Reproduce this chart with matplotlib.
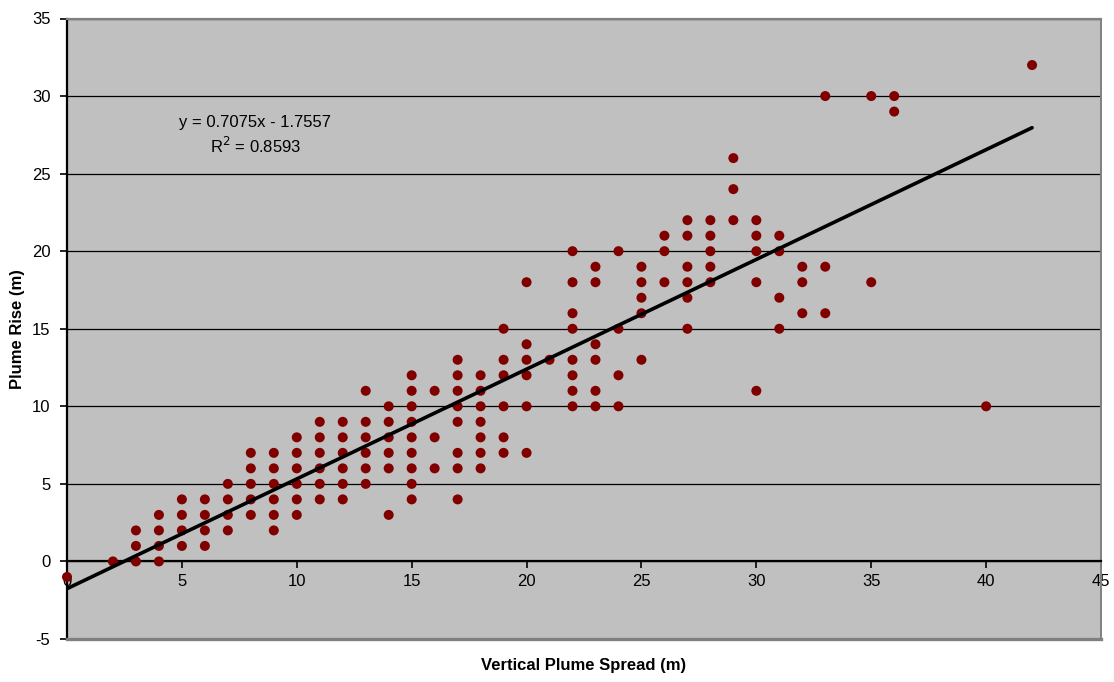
import matplotlib
matplotlib.use("Agg")
import matplotlib.pyplot as plt
import numpy as np

plt.rcParams['font.family'] = ['Liberation Sans', 'DejaVu Sans']

# Data: x = vertical plume spread (m), y = plume rise (m)
spread = [0, 2,
          3, 3, 3,
          4, 4, 4, 4,
          5, 5, 5, 5,
          6, 6, 6, 6,
          7, 7, 7, 7,
          8, 8, 8, 8, 8,
          9, 9, 9, 9, 9, 9,
          10, 10, 10, 10, 10, 10,
          11, 11, 11, 11, 11, 11,
          12, 12, 12, 12, 12, 12,
          13, 13, 13, 13, 13, 13,
          14, 14, 14, 14, 14, 14,
          15, 15, 15, 15, 15, 15, 15, 15, 15,
          16, 16, 16,
          17, 17, 17, 17, 17, 17, 17, 17,
          18, 18, 18, 18, 18, 18, 18,
          19, 19, 19, 19, 19, 19,
          20, 20, 20, 20, 20, 20,
          21,
          22, 22, 22, 22, 22, 22, 22, 22,
          23, 23, 23, 23, 23, 23,
          24, 24, 24, 24,
          25, 25, 25, 25, 25,
          26, 26, 26,
          27, 27, 27, 27, 27, 27,
          28, 28, 28, 28, 28,
          29, 29, 29,
          30, 30, 30, 30, 30,
          31, 31, 31, 31,
          32, 32, 32,
          33, 33, 33,
          35, 35,
          36, 36,
          40,
          42]
rise = [-1, 0,
        0, 1, 2,
        0, 1, 2, 3,
        1, 2, 3, 4,
        1, 2, 3, 4,
        2, 3, 4, 5,
        3, 4, 5, 6, 7,
        2, 3, 4, 5, 6, 7,
        3, 4, 5, 6, 7, 8,
        4, 5, 6, 7, 8, 9,
        4, 5, 6, 7, 8, 9,
        5, 6, 7, 8, 9, 11,
        3, 6, 7, 8, 9, 10,
        4, 5, 6, 7, 8, 9, 10, 11, 12,
        6, 8, 11,
        4, 6, 7, 9, 10, 11, 12, 13,
        6, 7, 8, 9, 10, 11, 12,
        7, 8, 10, 12, 13, 15,
        7, 10, 12, 13, 14, 18,
        13,
        10, 11, 12, 13, 15, 16, 18, 20,
        10, 11, 13, 14, 18, 19,
        10, 12, 15, 20,
        13, 16, 17, 18, 19,
        18, 20, 21,
        15, 17, 18, 19, 21, 22,
        18, 19, 20, 21, 22,
        22, 24, 26,
        11, 18, 20, 21, 22,
        15, 17, 20, 21,
        16, 18, 19,
        16, 19, 30,
        18, 30,
        29, 30,
        10,
        32]

# Trendline as reported on the chart
slope = 0.7075
intercept = -1.7557
r_squared = 0.8593

x_ticks = [0, 5, 10, 15, 20, 25, 30, 35, 40, 45]
y_ticks = [-5, 0, 5, 10, 15, 20, 25, 30, 35]

fig = plt.figure(figsize=(11.14, 6.82), dpi=100)
ax = fig.add_axes([67/1114, 43/682, (1101-67)/1114, (639-18.5)/682])
ax.set_facecolor('#C0C0C0')

ax.spines['bottom'].set_position(('data', 0))
ax.set_xlim(0, 45)
ax.set_ylim(-5, 35)
ax.set_xticks(x_ticks, [str(v) for v in x_ticks])
ax.set_yticks(y_ticks, [str(v) for v in y_ticks])

ax.set_axisbelow(True)
ax.yaxis.grid(True, color='black', linewidth=0.9)

ax.scatter(spread, rise, s=52, color='#800000', edgecolors='none', zorder=3,
           clip_on=False)

xs = np.array([min(spread), max(spread)])
ax.plot(xs, slope * xs + intercept, color='black', linewidth=2.6, zorder=4,
        solid_capstyle='round')

ax.spines['bottom'].set_color('black')
ax.spines['bottom'].set_linewidth(1.6)
ax.spines['left'].set_color('black')
ax.spines['left'].set_linewidth(1.6)
ax.spines['top'].set_color('#808080')
ax.spines['top'].set_linewidth(1.6)
ax.spines['right'].set_color('#808080')
ax.spines['right'].set_linewidth(1.4)
ax.axhline(-5, color='#808080', linewidth=2.4, clip_on=False, zorder=5)

ax.tick_params(axis='both', direction='out', length=5, width=1.2, colors='black',
               labelsize=12)
ax.tick_params(axis='x', pad=4)
ax.tick_params(axis='y', pad=7)

ax.text(8.18, 28.3, f"y = {slope}x - {abs(intercept)}", ha='center', va='center', fontsize=12)
ax.text(8.18, 26.8, f"R$^2$ = {r_squared}", ha='center', va='center', fontsize=12)

ax.set_xlabel('Vertical Plume Spread (m)', fontsize=12, fontweight='bold')
ax.xaxis.set_label_coords(0.5, -0.031)
ax.set_ylabel('Plume Rise (m)', fontsize=12, fontweight='bold')
ax.yaxis.set_label_coords(-0.0406, 0.5)

fig.savefig('out.png', dpi=100)
